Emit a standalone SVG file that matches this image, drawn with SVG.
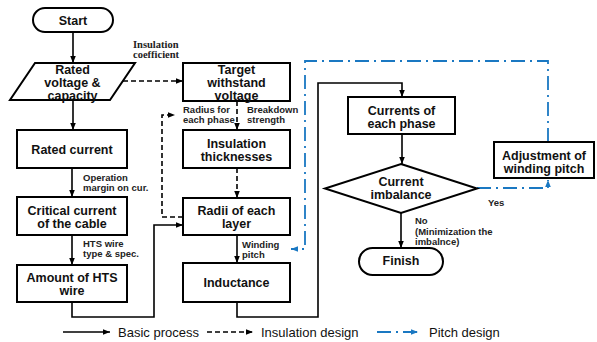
<svg xmlns="http://www.w3.org/2000/svg" width="597" height="342" viewBox="0 0 597 342">
<defs>
<marker id="ab" viewBox="0 0 10 10" refX="10" refY="5" markerWidth="7" markerHeight="7" markerUnits="userSpaceOnUse" orient="auto"><path d="M0,1 L10,5 L0,9 Z" fill="#000"/></marker>
<marker id="bl" viewBox="0 0 10 10" refX="10" refY="5" markerWidth="7" markerHeight="7" markerUnits="userSpaceOnUse" orient="auto"><path d="M0,1 L10,5 L0,9 Z" fill="#1a78c2"/></marker>
<style>
.box{fill:#fff;stroke:#000;stroke-width:2}
.t{font-family:"Liberation Sans",Arial,sans-serif;font-weight:bold;font-size:12.5px;text-anchor:middle;fill:#111}
.s{font-family:"Liberation Sans",Arial,sans-serif;font-weight:bold;font-size:9.5px;fill:#222}
.lg{font-family:"Liberation Sans",Arial,sans-serif;font-size:13px;fill:#111}
.solid{fill:none;stroke:#000;stroke-width:1.6;marker-end:url(#ab)}
.dash{fill:none;stroke:#000;stroke-width:1.6;stroke-dasharray:5 3;marker-end:url(#ab)}
.blue{fill:none;stroke:#1a78c2;stroke-width:1.8;stroke-dasharray:14 5 2 5;marker-end:url(#bl)}
</style>
</defs>
<rect width="597" height="342" fill="#fff"/>
<g id="connectors">
<path class="solid" d="M73,32 V63"/>
<path class="solid" d="M73,100 V130"/>
<path class="solid" d="M72,168 V197"/>
<path class="solid" d="M72,235 V265"/>
<path class="solid" d="M72,302 V317 H154 V225 H183"/>
<path class="dash" d="M123,81 H183"/>
<path class="dash" d="M237,101 V130"/>
<path class="dash" d="M237,168 V198"/>
<path class="dash" d="M183,217 H162 V115 H175"/>
<path class="solid" d="M237,235 V263"/>
<path class="solid" d="M237,302 V317 H318 V83 H402 V97"/>
<path class="solid" d="M402,134 V164"/>
<path class="solid" d="M401,213 V248"/>
<path class="blue" d="M477,188 H548 V180"/>
<path class="blue" d="M548,142 V61 H305 V249 H291"/>
<text class="s" style="font-family:'Liberation Serif','Times New Roman',serif;font-size:10.5px" x="133" y="48">Insulation</text>
<text class="s" style="font-family:'Liberation Serif','Times New Roman',serif;font-size:10.5px" x="133" y="58">coefficient</text>
<text class="s" x="183" y="113">Radius for</text>
<text class="s" x="183" y="123">each phase</text>
<text class="s" x="247" y="113">Breakdown</text>
<text class="s" x="247" y="123">strength</text>
<text class="s" x="83" y="181">Operation</text>
<text class="s" x="83" y="191">margin on cur.</text>
<text class="s" x="83" y="247">HTS wire</text>
<text class="s" x="83" y="257">type &amp; spec.</text>
<text class="s" x="242" y="248">Winding</text>
<text class="s" x="242" y="258">pitch</text>
<text class="s" x="488" y="206">Yes</text>
<text class="s" x="415" y="224">No</text>
<text class="s" x="415" y="234.5">(Minimization the</text>
<text class="s" x="415" y="244.5">imbalnce)</text>
</g>
<g id="start"><rect class="box" x="33" y="8" width="80" height="24" rx="12"/><text class="t" x="73" y="24.5">Start</text></g>
<g id="rated-voltage"><path class="box" d="M35,63 H135 L110,100 H10 Z"/><text class="t" x="72.5" y="73.5">Rated</text><text class="t" x="72.5" y="86.5">voltage &amp;</text><text class="t" x="72.5" y="99.5">capacity</text></g>
<g id="rated-current"><rect class="box" x="17" y="130" width="110" height="38"/><text class="t" x="72" y="153.5">Rated current</text></g>
<g id="critical-current"><rect class="box" x="17" y="197" width="110" height="38"/><text class="t" x="72" y="214.5">Critical current</text><text class="t" x="72" y="227.5">of the cable</text></g>
<g id="amount-hts"><rect class="box" x="17" y="265" width="110" height="37"/><text class="t" x="72" y="281.5">Amount of HTS</text><text class="t" x="72" y="294.5">wire</text></g>
<g id="target-voltage"><rect class="box" x="183" y="63" width="107" height="38"/><text class="t" x="236.5" y="73.5">Target</text><text class="t" x="236.5" y="86.5">withstand</text><text class="t" x="236.5" y="99.5">voltage</text></g>
<g id="insulation-thickness"><rect class="box" x="183" y="130" width="107" height="38"/><text class="t" x="236.5" y="147.5">Insulation</text><text class="t" x="236.5" y="160.5">thicknesses</text></g>
<g id="radii"><rect class="box" x="183" y="198" width="107" height="37"/><text class="t" x="236.5" y="214.5">Radii of each</text><text class="t" x="236.5" y="227.5">layer</text></g>
<g id="inductance"><rect class="box" x="183" y="263" width="107" height="39"/><text class="t" x="236.5" y="287">Inductance</text></g>
<g id="currents"><rect class="box" x="348" y="97" width="107" height="37"/><text class="t" x="401.5" y="114.5">Currents of</text><text class="t" x="401.5" y="127.5">each phase</text></g>
<g id="imbalance"><path class="box" d="M401,164 L477,188.5 L401,213 L325,188.5 Z"/><text class="t" x="401" y="186">Current</text><text class="t" x="401" y="199">imbalance</text></g>
<g id="adjustment"><rect class="box" x="494" y="142" width="100" height="36"/><text class="t" x="544" y="159.5">Adjustment of</text><text class="t" x="544" y="172.5">winding pitch</text></g>
<g id="finish"><rect class="box" x="359" y="248" width="84" height="27" rx="13.5"/><text class="t" x="401" y="265">Finish</text></g>
<g id="legend">
<path class="solid" d="M63,332 H110"/><text class="lg" x="118" y="337">Basic process</text>
<path class="dash" d="M207,332 H253"/><text class="lg" x="261" y="337">Insulation design</text>
<path class="blue" d="M377,332 H418"/><text class="lg" x="429" y="337">Pitch design</text>
</g>
</svg>
